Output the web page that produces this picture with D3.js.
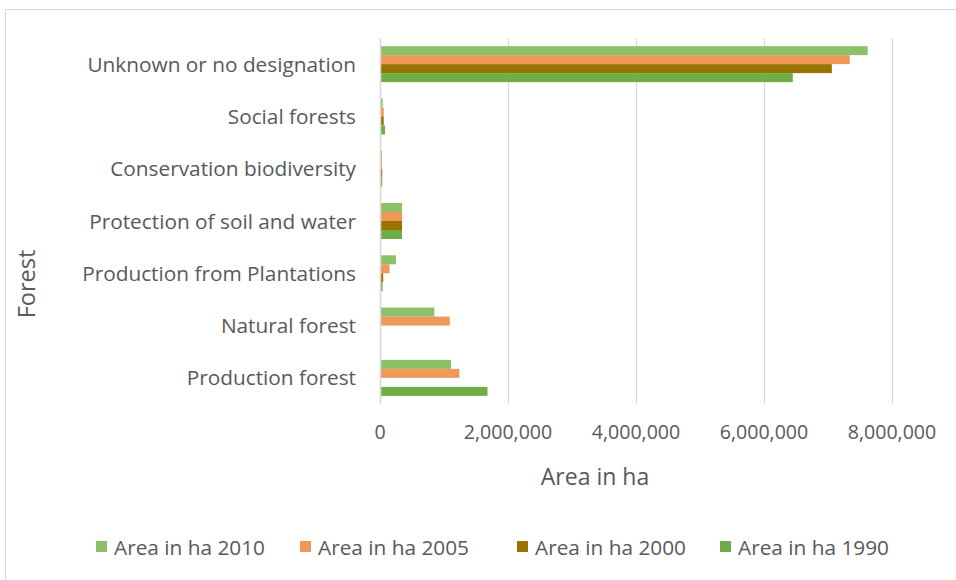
<!DOCTYPE html>
<html>
<head>
<meta charset="utf-8">
<script src="https://cdn.jsdelivr.net/npm/d3@7"></script>
<style>
  html, body { margin: 0; padding: 0; background: #fff; }
  svg { display: block; }
  text { font-family: "Open Sans", "Noto Sans", sans-serif; fill: #595959; }
</style>
</head>
<body>
<svg id="chart" width="956" height="580"></svg>
<script>
// Forest designation categories, top to bottom
const categories = [
  "Unknown or no designation",
  "Social forests",
  "Conservation biodiversity",
  "Protection of soil and water",
  "Production from Plantations",
  "Natural forest",
  "Production forest"
];

// Area in ha per designation, one array per reporting year
const area2010 = [7620000, 42000, 30000, 345000, 250000, 850000, 1110000];
const area2005 = [7340000, 58000, 30000, 345000, 150000, 1090000, 1240000];
const area2000 = [7060000, 58000, 35000, 345000, 50000, 0, 0];
const area1990 = [6450000, 78000, 35000, 345000, 40000, 0, 1680000];

const seriesNames = ["Area in ha 2010", "Area in ha 2005", "Area in ha 2000", "Area in ha 1990"];
const seriesValues = [area2010, area2005, area2000, area1990];
const colors = ["#8CC16A", "#F0975A", "#997300", "#70AD47"];

const xTicks = [0, 2000000, 4000000, 6000000, 8000000];

const svg = d3.select("#chart");

// outer chart frame
svg.append("rect")
  .attr("x", 5.5).attr("y", 9.5)
  .attr("width", 960).attr("height", 580)
  .attr("fill", "none").attr("stroke", "#D9D9D9").attr("stroke-width", 1);

const plot = { left: 380, right: 892, top: 38, bottom: 404 };

const x = d3.scaleLinear().domain([0, 8000000]).range([plot.left, plot.right]);

const gapRatio = 0.3115;
const y = d3.scaleBand()
  .domain(categories)
  .range([plot.top, plot.bottom])
  .paddingInner(gapRatio)
  .paddingOuter(gapRatio / 2);

const ySeries = d3.scaleBand()
  .domain(seriesNames)
  .range([0, y.bandwidth()]);

// vertical gridlines
svg.append("g")
  .selectAll("line")
  .data(xTicks)
  .join("line")
  .attr("x1", d => Math.round(x(d)) + 0.5)
  .attr("x2", d => Math.round(x(d)) + 0.5)
  .attr("y1", plot.top)
  .attr("y2", plot.bottom)
  .attr("stroke", "#D9D9D9")
  .attr("stroke-width", 1.2);

// bars
const rows = [];
categories.forEach((c, i) => {
  seriesNames.forEach((s, j) => {
    rows.push({ category: c, series: s, value: seriesValues[j][i], color: colors[j] });
  });
});

svg.append("g")
  .selectAll("rect")
  .data(rows.filter(d => d.value > 0))
  .join("rect")
  .attr("x", x(0) + 1)
  .attr("y", d => y(d.category) + ySeries(d.series))
  .attr("width", d => Math.max(0, x(d.value) - x(0) - 1))
  .attr("height", ySeries.bandwidth())
  .attr("fill", d => d.color);

// value axis zero line
svg.append("line")
  .attr("x1", x(0) + 0.5).attr("x2", x(0) + 0.5)
  .attr("y1", plot.top).attr("y2", plot.bottom)
  .attr("stroke", "#D9D9D9").attr("stroke-width", 1.5);

// x tick labels
const fmt = d3.format(",");
svg.append("g")
  .selectAll("text")
  .data(xTicks)
  .join("text")
  .attr("x", d => x(d))
  .attr("y", 439)
  .attr("text-anchor", "middle")
  .attr("font-size", 19.6)
  .text(d => fmt(d));

// category labels
svg.append("g")
  .selectAll("text")
  .data(categories)
  .join("text")
  .attr("x", 356)
  .attr("y", d => y(d) + y.bandwidth() / 2 + 7.5)
  .attr("text-anchor", "end")
  .attr("font-size", 20.8)
  .text(d => d);

// axis titles
svg.append("text")
  .attr("x", 595)
  .attr("y", 485)
  .attr("text-anchor", "middle")
  .attr("font-size", 23)
  .text("Area in ha");

svg.append("text")
  .attr("transform", "translate(35,284) rotate(-90)")
  .attr("text-anchor", "middle")
  .attr("font-size", 23.5)
  .text("Forest");

// legend
const legendX = [96, 300, 517, 720];
const legend = svg.append("g")
  .selectAll("g")
  .data(seriesNames)
  .join("g")
  .attr("transform", (d, i) => `translate(${legendX[i]},548)`);

legend.append("rect")
  .attr("x", 0).attr("y", -7)
  .attr("width", 11).attr("height", 11)
  .attr("fill", (d, i) => colors[i]);

legend.append("text")
  .attr("x", 18)
  .attr("y", 7)
  .attr("font-size", 20.8)
  .text(d => d);
</script>
</body>
</html>
